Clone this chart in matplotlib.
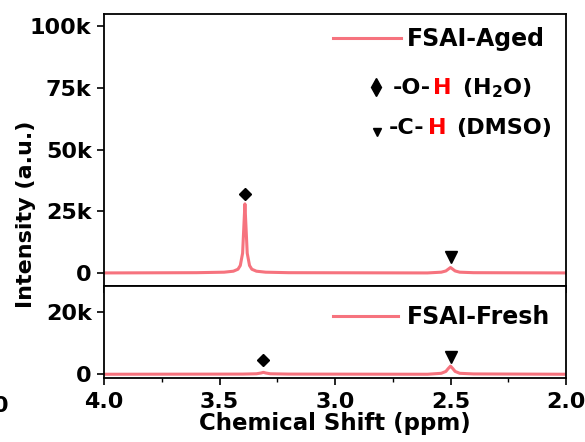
import matplotlib
matplotlib.use("Agg")
import matplotlib.pyplot as plt
from matplotlib.ticker import MultipleLocator, FuncFormatter

# ---- data ----
aged_x = [4.00, 3.60, 3.48, 3.44, 3.42, 3.41, 3.40, 3.395, 3.39, 3.385, 3.38, 3.37,
          3.36, 3.34, 3.30, 3.20, 2.60, 2.54, 2.52, 2.51, 2.50, 2.49, 2.48, 2.46, 2.40, 2.00]
aged_y = [0, 100, 300, 700, 1500, 3000, 8000, 18000, 28000, 18000, 8000, 3000,
          1500, 700, 300, 100, 0, 300, 800, 1500, 2200, 1500, 800, 300, 100, 0]

fresh_x = [4.00, 3.40, 3.34, 3.32, 3.31, 3.30, 3.28, 3.20, 2.60, 2.54, 2.52, 2.51,
           2.50, 2.49, 2.48, 2.46, 2.40, 2.00]
fresh_y = [0, 50, 150, 400, 600, 400, 150, 50, 0, 300, 900, 1800,
           2600, 1800, 900, 300, 100, 0]

aged_marks_x = [3.39, 2.50]
aged_marks_y = [32000, 6500]
fresh_marks_x = [3.31, 2.50]
fresh_marks_y = [4600, 5600]

xticks = [4.0, 3.5, 3.0, 2.5, 2.0]
top_yticks = [0, 25000, 50000, 75000, 100000]
bot_yticks = [0, 20000]

line_color = "#F6737E"
W, H = 585, 442
plt.rcParams['font.family'] = ['DejaVu Sans']
plt.rcParams['font.weight'] = 'bold'
plt.rcParams['mathtext.fontset'] = 'dejavusans'

fig = plt.figure(figsize=(W / 100, H / 100), dpi=100)

def ax_rect(l, t, r, b):
    return [l / W, 1 - b / H, (r - l) / W, (b - t) / H]

ax1 = fig.add_axes(ax_rect(104, 14, 566, 286))
ax2 = fig.add_axes(ax_rect(104, 286, 566, 378))

kfmt = FuncFormatter(lambda v, p: "0" if v == 0 else f"{int(round(v / 1000))}k")

for ax in (ax1, ax2):
    ax.set_xlim(4.0, 2.0)
    ax.xaxis.set_major_locator(MultipleLocator(0.5))
    ax.xaxis.set_minor_locator(MultipleLocator(0.25))
    ax.tick_params(axis='both', which='major', direction='out', length=5, width=1.2,
                   labelsize=16)
    ax.tick_params(axis='y', which='major', pad=4)
    ax.tick_params(axis='x', which='major', pad=5)
    ax.tick_params(axis='x', which='minor', direction='out', length=3, width=1.0)
    ax.tick_params(axis='y', which='minor', left=False)
    for s in ax.spines.values():
        s.set_linewidth(1.3)
    ax.yaxis.set_major_formatter(kfmt)

ax1.plot(aged_x, aged_y, color=line_color, lw=2.2, solid_capstyle='round')
ax1.set_ylim(-5300, 105000)
ax1.set_yticks(top_yticks)
ax1.tick_params(axis='x', labelbottom=False)
ax1.plot(aged_marks_x[:1], aged_marks_y[:1], 'D', color='black', ms=6.5)
ax1.plot(aged_marks_x[1:], aged_marks_y[1:], 'v', color='black', ms=8)

ax2.plot(fresh_x, fresh_y, color=line_color, lw=2.2, solid_capstyle='round')
ax2.set_ylim(-1200, 28200)
ax2.set_yticks(bot_yticks)
ax2.set_xticks(xticks)
ax2.set_xticklabels([f"{v:.1f}" for v in xticks])
ax2.plot(fresh_marks_x[:1], fresh_marks_y[:1], 'D', color='black', ms=6.5)
ax2.plot(fresh_marks_x[1:], fresh_marks_y[1:], 'v', color='black', ms=8)
ax2.set_xlabel("Chemical Shift (ppm)", fontsize=16.5, fontweight='bold', labelpad=0)

for ax in (ax1, ax2):
    for lab in ax.get_xticklabels() + ax.get_yticklabels():
        lab.set_fontweight('bold')

def fx(px):
    return (px - 104) / 462.0

def fy1(py):
    return (286 - py) / 272.0

def fy2(py):
    return (378 - py) / 92.0

# legend-like annotations, top panel
ax1.plot([fx(333), fx(401)], [fy1(38), fy1(38)], color=line_color, lw=2.2,
         transform=ax1.transAxes)
ax1.text(fx(407), fy1(39), "FSAI-Aged", transform=ax1.transAxes, fontsize=17,
         fontweight='bold', va='center', ha='left')
ax1.plot([fx(376)], [fy1(87)], 'd', color='black', ms=9, transform=ax1.transAxes)
ax1.text(fx(393), fy1(88), "-O-", transform=ax1.transAxes, fontsize=16,
         fontweight='bold', va='center', ha='left')
ax1.text(fx(433), fy1(88), "H", transform=ax1.transAxes, fontsize=16,
         fontweight='bold', va='center', ha='left', color='#FF0000')
ax1.text(fx(462), fy1(88), "(H$_\\mathbf{2}$O)", transform=ax1.transAxes, fontsize=16,
         fontweight='bold', va='center', ha='left')
ax1.plot([fx(377)], [fy1(132)], 'v', color='black', ms=6, transform=ax1.transAxes)
ax1.text(fx(389), fy1(128), "-C-", transform=ax1.transAxes, fontsize=16,
         fontweight='bold', va='center', ha='left')
ax1.text(fx(428), fy1(128), "H", transform=ax1.transAxes, fontsize=16,
         fontweight='bold', va='center', ha='left', color='#FF0000')
ax1.text(fx(456), fy1(128), "(DMSO)", transform=ax1.transAxes, fontsize=16,
         fontweight='bold', va='center', ha='left')

# legend-like annotation, bottom panel
ax2.plot([fx(333), fx(398)], [fy2(316), fy2(316)], color=line_color, lw=2.2,
         transform=ax2.transAxes)
ax2.text(fx(407), fy2(317), "FSAI-Fresh", transform=ax2.transAxes, fontsize=17,
         fontweight='bold', va='center', ha='left')

# shared y label and cut-off neighbour tick label
fig.text(26 / W, 1 - 214 / H, "Intensity (a.u.)", rotation=90, fontsize=16,
         fontweight='bold', ha='center', va='center')
fig.text(8 / W, 1 - 406 / H, "0", fontsize=16, fontweight='bold', ha='right', va='center')

fig.savefig("out.png", dpi=100)
